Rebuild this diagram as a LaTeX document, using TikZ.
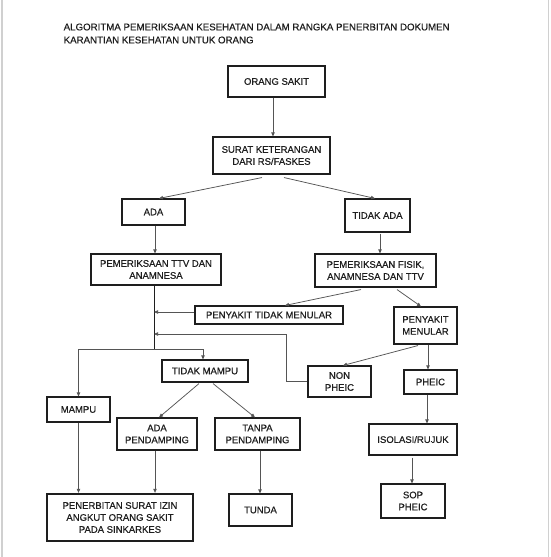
\documentclass[tikz,border=0pt]{standalone}
\usepackage{fontspec}
\setmainfont{Liberation Sans}[BoldFont={Liberation Sans},BoldFeatures={FakeBold=0.5}]
\usetikzlibrary{arrows.meta,calc}
\definecolor{txt}{HTML}{1E1E1E}
\definecolor{ln}{HTML}{555555}
\definecolor{edge}{HTML}{D0D0D0}
\begin{document}
\begin{tikzpicture}[x=1pt,y=-1pt,
  box/.style={draw=txt,line width=1.1pt,fill=white,inner sep=1pt,align=center,text=txt,
    font=\fontsize{9.5}{12}\selectfont\bfseries},
  arr/.style={draw=ln,line width=0.75pt,-{Triangle[length=4pt,width=3.4pt]}},
  lin/.style={draw=ln,line width=0.75pt}]
\useasboundingbox (0,0) rectangle (551,557);
\fill[white] (0,0) rectangle (551,557);
\draw[edge,line width=1.5pt] (2,0) -- (2,557);
\draw[edge,line width=1.5pt] (548.5,0) -- (548.5,557);
\node[anchor=west,align=left,inner sep=0pt,text=txt,font=\fontsize{9.7}{13}\selectfont\bfseries] (title) at (63.5,33.5)
  {ALGORITMA PEMERIKSAAN KESEHATAN DALAM RANGKA PENERBITAN DOKUMEN\\KARANTIAN KESEHATAN UNTUK ORANG};
\node[box,minimum width=97pt,minimum height=31pt] (orang) at (276.5,81.5) {ORANG SAKIT};
\node[box,minimum width=117pt,minimum height=37pt] (surat) at (271.5,155.5) {SURAT KETERANGAN\\DARI RS/FASKES};
\node[box,minimum width=63pt,minimum height=26pt] (ada) at (153.5,212) {ADA};
\node[box,minimum width=65pt,minimum height=33pt] (tidakada) at (377.5,215.5) {TIDAK ADA};
\node[box,minimum width=130pt,minimum height=31pt] (ttv) at (156,269.5) {PEMERIKSAAN TTV DAN\\ANAMNESA};
\node[box,minimum width=121pt,minimum height=33pt] (fisik) at (375.5,270.5) {PEMERIKSAAN FISIK,\\ANAMNESA DAN TTV};
\node[box,minimum width=148pt,minimum height=18pt] (ptm) at (269,315) {PENYAKIT TIDAK MENULAR};
\node[box,minimum width=63pt,minimum height=37pt] (pm) at (425.5,325.5) {PENYAKIT\\MENULAR};
\node[box,minimum width=63pt,minimum height=31pt] (nonpheic) at (339.5,381.5) {NON\\PHEIC};
\node[box,minimum width=53pt,minimum height=24pt] (pheic) at (430.5,382) {PHEIC};
\node[box,minimum width=63pt,minimum height=25pt] (mampu) at (78.5,409.5) {MAMPU};
\node[box,minimum width=86pt,minimum height=22pt] (tidakmampu) at (205,371) {TIDAK MAMPU};
\node[box,minimum width=80pt,minimum height=32pt] (adap) at (157,434) {ADA\\PENDAMPING};
\node[box,minimum width=85pt,minimum height=32pt] (tanpa) at (257.5,434) {TANPA\\PENDAMPING};
\node[box,minimum width=88pt,minimum height=31pt] (isolasi) at (413,439.5) {ISOLASI/RUJUK};
\node[box,minimum width=64pt,minimum height=34pt] (sop) at (413,501) {SOP\\PHEIC};
\node[box,line width=2.3pt,minimum width=146pt,minimum height=47pt] (penerbitan) at (120,517.5) {PENERBITAN SURAT IZIN\\ANGKUT ORANG SAKIT\\PADA SINKARKES};
\node[box,minimum width=63pt,minimum height=32pt] (tunda) at (260.5,510) {TUNDA};
\coordinate (j) at (154,349);
\coordinate (k) at (286,334);
% connectors
\draw[arr] ([xshift=-3.5pt]orang.south) -- ([xshift=1.5pt]surat.north);
\draw[arr] ([xshift=-9.5pt,yshift=-3pt]surat.south) -- ([xshift=5.5pt]ada.north);
\draw[arr] ([xshift=12.5pt,yshift=-3pt]surat.south) -- ([xshift=-2.5pt]tidakada.north);
\draw[arr] ([xshift=1.5pt]ada.south) -- ([xshift=-1pt]ttv.north);
\draw[arr] ([xshift=2.5pt,yshift=-1pt]tidakada.south) -- ([xshift=4.5pt]fisik.north);
\draw[draw=txt,line width=0.8pt] ([xshift=-2pt]ttv.south) -- (j);
\draw[arr] ([xshift=-14.5pt,yshift=-2pt]fisik.south) -- ([xshift=16pt]ptm.north);
\draw[arr] ([xshift=21.5pt,yshift=-2pt]fisik.south) -- ([xshift=-4.5pt]pm.north);
\draw[arr] ([yshift=3pt]ptm.west) -- ([yshift=3pt]ptm.west -| j);
\draw[arr] (nonpheic.west) -| (k) -- (k -| j);
\draw[arr] ([xshift=-7.5pt,yshift=-1pt]pm.south) -- ([xshift=3.5pt]nonpheic.north);
\draw[arr] ([xshift=2.5pt]pm.south) -- ([xshift=-2.5pt]pheic.north);
\draw[arr] (j) -| (mampu.north);
\draw[arr] (j) -| ([xshift=-2pt]tidakmampu.north);
\draw[arr] ([xshift=-6pt,yshift=-1pt]tidakmampu.south) -- ([xshift=2pt]adap.north);
\draw[arr] ([xshift=8pt,yshift=-1pt]tidakmampu.south) -- ([xshift=-2.5pt]tanpa.north);
\draw[arr] ([xshift=-3.5pt]pheic.south) -- ([xshift=14pt]isolasi.north);
\draw[arr] ([xshift=-1pt,yshift=-2pt]isolasi.south) -- ([xshift=-1pt]sop.north);
\draw[arr] (mampu.south) -- (mampu.south |- penerbitan.north);
\draw[arr] ([xshift=-2pt]adap.south) -- ([xshift=-2pt]adap.south |- penerbitan.north);
\draw[arr] ([xshift=2.5pt]tanpa.south) -- ([xshift=-0.5pt]tunda.north);
\end{tikzpicture}
\end{document}
